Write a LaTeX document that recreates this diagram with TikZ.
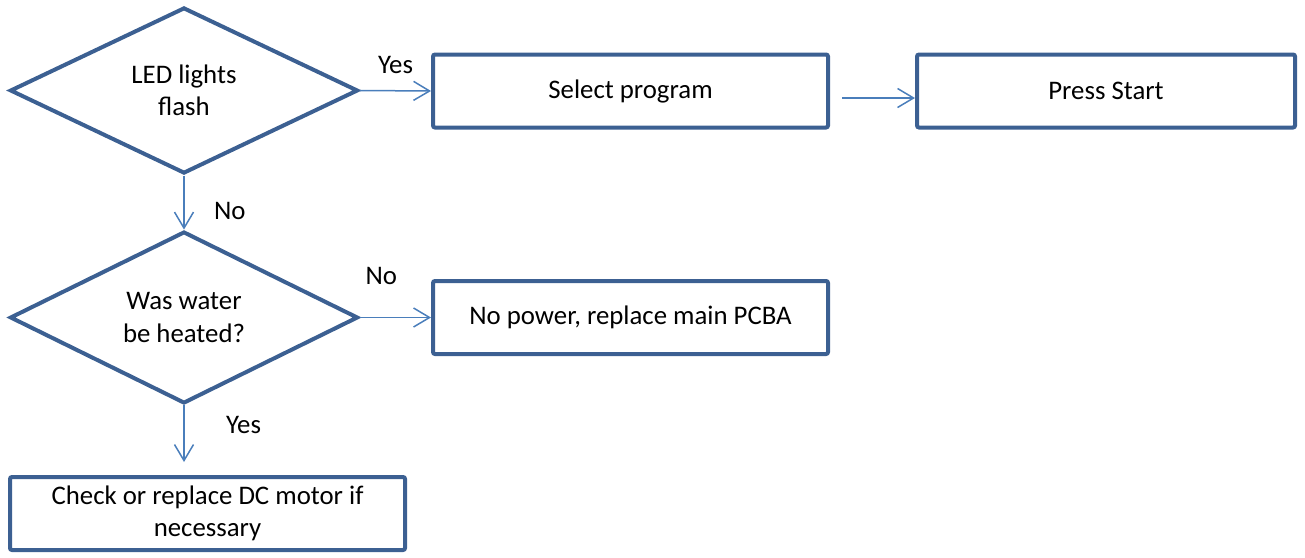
\documentclass[tikz,border=0pt]{standalone}
\usepackage{fontspec}
\setmainfont{Carlito}
\usetikzlibrary{shapes.geometric,arrows.meta,calc}
\definecolor{Rand}{RGB}{60,96,146}
\definecolor{Linie}{RGB}{74,126,187}

\begin{document}
\begin{tikzpicture}[x=1pt, y=-1pt,
	Pfeil/.style={draw=Linie, line width=1.5pt, arrows = -{Straight Barb[length=16pt, width=19pt, line width=1.5pt]}},
	Raute/.style={diamond, draw=Rand, line width=4pt, minimum width=348pt, minimum height=166pt, inner sep=0pt, align=center},
	Kasten/.style={rectangle, draw=Rand, line width=4pt, rounded corners=2pt, minimum width=395pt, minimum height=73pt, align=center},
	font=\fontsize{26.8}{32.5}\selectfont]
				\useasboundingbox (0,0) rectangle (1305,557);
				\node (r1) at (184,90.5) [Raute] {LED lights\\flash};
				\node (r2) at (184,317.5) [Raute] {Was water\\be heated?};
				\node (b1) at (630.5,91) [Kasten] {Select program};
				\node (b2) at (1106,91) [Kasten, minimum width=378pt] {Press Start};
				\node (b3) at (630.5,317.5) [Kasten] {No power, replace main PCBA};
				\node (b4) at (207.5,513.5) [Kasten] {Check or replace DC motor if\\necessary};
				\coordinate (m1) at (842,98);
				\coordinate (e1) at (184,462);
				\draw[Pfeil] (r1.east) to node[above=13pt]{Yes} (b1.west);
				\draw[Pfeil] (m1) to (b2.west |- m1);
				\draw[Pfeil] (r1.south) to node[right=26pt, pos=0.65]{No} (r2.north);
				\draw[Pfeil] (r2.east) to node[above=29pt, pos=0.3]{No} (b3.west);
				\draw[Pfeil] (r2.south) to node[right=38pt, pos=0.35]{Yes} (e1);
			\end{tikzpicture}
\end{document}
